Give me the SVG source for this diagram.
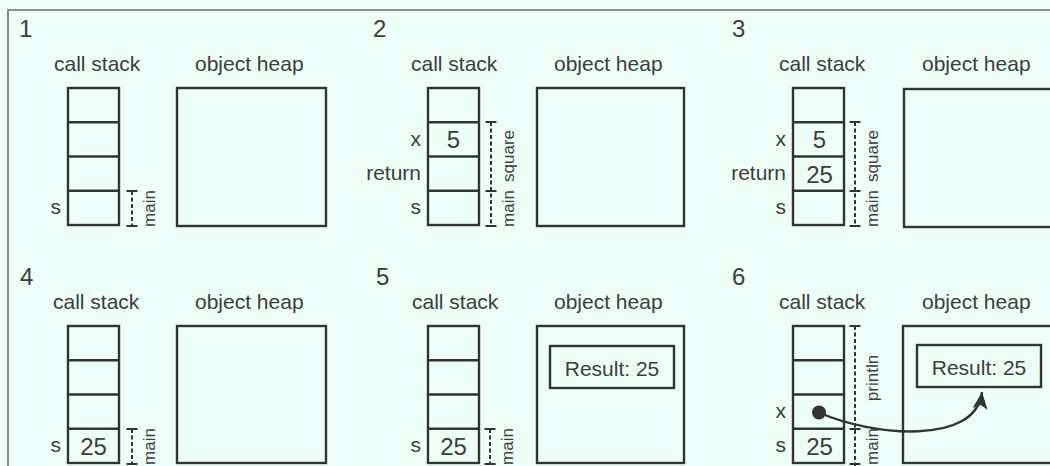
<svg xmlns="http://www.w3.org/2000/svg" width="1050" height="466" viewBox="0 0 1050 466">
<style>
text{font-family:"Liberation Sans",Arial,sans-serif;fill:#3d3d3d}
.num{font-size:24px}
.hdr{font-size:21px}
.lbl{font-size:21px;text-anchor:end}
.val{font-size:24px;text-anchor:middle}
.rot{font-size:17px;text-anchor:middle}
.res{font-size:21px;text-anchor:middle}
.box{fill:none;stroke:#333;stroke-width:2.4}
.dash{stroke:#333;stroke-width:2;stroke-dasharray:4 2.5;fill:none}
.cap{stroke:#333;stroke-width:2;fill:none}
.conn{stroke:#333;stroke-width:2.4;fill:none}
</style>
<defs>
<g id="stack4">
<rect class="box" x="0" y="0" width="51" height="137"/>
<line class="box" x1="0" y1="34.25" x2="51" y2="34.25"/>
<line class="box" x1="0" y1="68.5" x2="51" y2="68.5"/>
<line class="box" x1="0" y1="102.75" x2="51" y2="102.75"/>
</g>
<marker id="ah" viewBox="-18 -8 20 16" markerWidth="20" markerHeight="16" refX="0" refY="0" orient="auto" markerUnits="userSpaceOnUse">
<path d="M0,0 L-17,-7.5 L-13,0 L-17,7.5 Z" fill="#333"/>
</marker>
</defs>
<rect x="0" y="0" width="1050" height="466" fill="#eefff8"/>
<path d="M8,466 V10 H1050" fill="none" stroke="#6e6e6e" stroke-width="1.6"/>

<g id="panel1">
<text class="num" x="19" y="37">1</text>
<text class="hdr" x="54" y="71">call stack</text>
<text class="hdr" x="195" y="71">object heap</text>
<g id="p1-stack"><use href="#stack4" x="68" y="88"/></g>
<text class="lbl" x="61" y="214">s</text>
<g id="p1-heap"><rect class="box" x="177" y="88" width="149" height="138"/></g>
<g id="p1-main">
<line class="dash" x1="132" y1="191" x2="132" y2="226"/>
<line class="cap" x1="126.5" y1="191" x2="137.5" y2="191"/>
<line class="cap" x1="126.5" y1="226" x2="137.5" y2="226"/>
<text class="rot" transform="translate(155,208.5) rotate(-90)">main</text>
</g>
</g>

<g id="panel2">
<text class="num" x="373" y="37">2</text>
<text class="hdr" x="411" y="71">call stack</text>
<text class="hdr" x="554" y="71">object heap</text>
<g id="p2-stack"><use href="#stack4" x="428" y="88"/></g>
<text class="lbl" x="421" y="145.5">x</text>
<text class="lbl" x="421" y="179.5">return</text>
<text class="lbl" x="421" y="214">s</text>
<text class="val" x="453.5" y="148">5</text>
<g id="p2-heap"><rect class="box" x="537" y="88" width="147" height="138"/></g>
<g id="p2-frames">
<line class="dash" x1="491" y1="122" x2="491" y2="226"/>
<line class="cap" x1="485.5" y1="122" x2="496.5" y2="122"/>
<line class="cap" x1="485.5" y1="191" x2="496.5" y2="191"/>
<line class="cap" x1="485.5" y1="226" x2="496.5" y2="226"/>
<text class="rot" transform="translate(514,156) rotate(-90)">square</text>
<text class="rot" transform="translate(514,208.5) rotate(-90)">main</text>
</g>
</g>

<g id="panel3">
<text class="num" x="732" y="37">3</text>
<text class="hdr" x="779" y="71">call stack</text>
<text class="hdr" x="922" y="71">object heap</text>
<g id="p3-stack"><use href="#stack4" x="793" y="88"/></g>
<text class="lbl" x="786" y="145.5">x</text>
<text class="lbl" x="786" y="179.5">return</text>
<text class="lbl" x="786" y="214">s</text>
<text class="val" x="819.5" y="148">5</text>
<text class="val" x="819.5" y="182.5">25</text>
<g id="p3-heap"><rect class="box" x="904" y="89" width="149" height="138"/></g>
<g id="p3-frames">
<line class="dash" x1="855" y1="122" x2="855" y2="226"/>
<line class="cap" x1="849.5" y1="122" x2="860.5" y2="122"/>
<line class="cap" x1="849.5" y1="191" x2="860.5" y2="191"/>
<line class="cap" x1="849.5" y1="226" x2="860.5" y2="226"/>
<text class="rot" transform="translate(878,156) rotate(-90)">square</text>
<text class="rot" transform="translate(878,208.5) rotate(-90)">main</text>
</g>
</g>

<g id="panel4">
<text class="num" x="20" y="285">4</text>
<text class="hdr" x="53" y="309">call stack</text>
<text class="hdr" x="195" y="309">object heap</text>
<g id="p4-stack"><use href="#stack4" x="68" y="326"/></g>
<text class="lbl" x="61" y="452">s</text>
<text class="val" x="93.5" y="454.5">25</text>
<g id="p4-heap"><rect class="box" x="177" y="326" width="149" height="137"/></g>
<g id="p4-main">
<line class="dash" x1="132" y1="429" x2="132" y2="464"/>
<line class="cap" x1="126.5" y1="429" x2="137.5" y2="429"/>
<line class="cap" x1="126.5" y1="464" x2="137.5" y2="464"/>
<text class="rot" transform="translate(155,446.5) rotate(-90)">main</text>
</g>
</g>

<g id="panel5">
<text class="num" x="376" y="285">5</text>
<text class="hdr" x="412" y="309">call stack</text>
<text class="hdr" x="554" y="309">object heap</text>
<g id="p5-stack"><use href="#stack4" x="428" y="326"/></g>
<text class="lbl" x="421" y="452">s</text>
<text class="val" x="453.5" y="454.5">25</text>
<g id="p5-heap"><rect class="box" x="537" y="326" width="147" height="137"/></g>
<g id="p5-result">
<rect class="box" x="550" y="346" width="124" height="42"/>
<text class="res" x="612" y="375.5">Result: 25</text>
</g>
<g id="p5-main">
<line class="dash" x1="490" y1="429" x2="490" y2="464"/>
<line class="cap" x1="484.5" y1="429" x2="495.5" y2="429"/>
<line class="cap" x1="484.5" y1="464" x2="495.5" y2="464"/>
<text class="rot" transform="translate(513,446.5) rotate(-90)">main</text>
</g>
</g>

<g id="panel6">
<text class="num" x="732" y="285">6</text>
<text class="hdr" x="779" y="309">call stack</text>
<text class="hdr" x="922" y="309">object heap</text>
<g id="p6-stack"><use href="#stack4" x="793" y="326"/></g>
<text class="lbl" x="786" y="418">x</text>
<text class="lbl" x="786" y="452">s</text>
<text class="val" x="819.5" y="454.5">25</text>
<circle cx="819" cy="412.5" r="7" fill="#333"/>
<g id="p6-heap"><rect class="box" x="903" y="326" width="150" height="137"/></g>
<g id="p6-result">
<rect class="box" x="917" y="345" width="124" height="42"/>
<text class="res" x="979" y="374.5">Result: 25</text>
</g>
<g id="p6-frames">
<line class="dash" x1="855" y1="326" x2="855" y2="466"/>
<line class="cap" x1="849.5" y1="326" x2="860.5" y2="326"/>
<line class="cap" x1="849.5" y1="429" x2="860.5" y2="429"/>
<line class="cap" x1="849.5" y1="464" x2="860.5" y2="464"/>
<text class="rot" transform="translate(878,378) rotate(-90)">println</text>
<text class="rot" transform="translate(878,446.5) rotate(-90)">main</text>
</g>
</g>

<g id="connectors">
<path class="conn" d="M819,412.5 C872,436 976,446 982,392" marker-end="url(#ah)"/>
</g>
</svg>
